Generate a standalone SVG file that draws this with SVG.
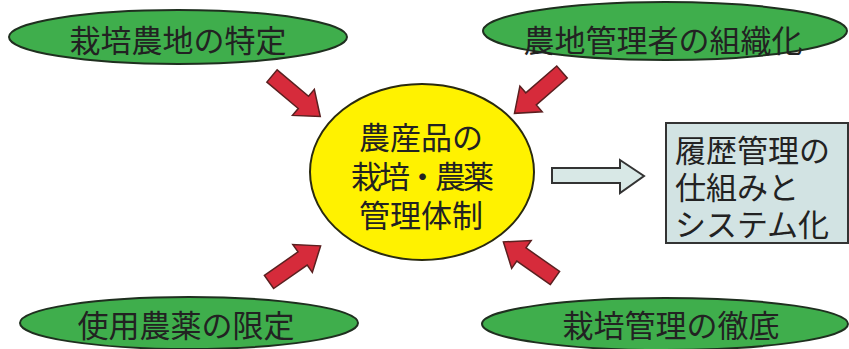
<svg xmlns="http://www.w3.org/2000/svg" xmlns:xlink="http://www.w3.org/1999/xlink" width="849" height="349" viewBox="0 0 849 349">
<style>
.g{fill:#3fae4c;stroke:#1f2f1f;stroke-width:2}
.y{fill:#fff200;stroke:#2a2a10;stroke-width:2}
.t{font-family:"Noto Sans CJK JP","Noto Sans CJK SC",sans-serif;font-size:31px;fill:#222;text-anchor:middle}
.tl{font-family:"Noto Sans CJK JP","Noto Sans CJK SC",sans-serif;font-size:31px;fill:#222}
.ra{fill:#d62b3b;stroke:#5a2020;stroke-width:1.5;stroke-linejoin:miter}
.box{fill:#d2e3e3;stroke:#333;stroke-width:2}
.ha{fill:#d8e8e6;stroke:#333;stroke-width:2;stroke-linejoin:miter}
</style>
<defs>
<path id="redArrow" d="M0,-8 L41,-8 L41,-17 L63,0 L41,17 L41,8 L0,8 Z"/>
</defs>
<rect width="849" height="349" fill="#fff"/>
<g id="connectors">
<use xlink:href="#redArrow" class="ra" transform="translate(272,76) rotate(40)"/>
<use xlink:href="#redArrow" class="ra" transform="translate(562,72) rotate(139)"/>
<use xlink:href="#redArrow" class="ra" transform="translate(269,282) rotate(-35)"/>
<use xlink:href="#redArrow" class="ra" transform="translate(555,278) rotate(-145)"/>
<path class="ha" d="M552,168 L620,168 L620,160 L644,176 L620,193 L620,183 L552,183 Z"/>
</g>
<g id="node-tl">
<ellipse class="g" cx="178" cy="37" rx="169" ry="27"/>
<text class="t" x="178" y="52">栽培農地の特定</text>
</g>
<g id="node-tr">
<ellipse class="g" cx="665" cy="31" rx="182" ry="29"/>
<text class="t" x="663" y="52">農地管理者の組織化</text>
</g>
<g id="node-bl">
<ellipse class="g" cx="189" cy="323" rx="169" ry="26"/>
<text class="t" x="186" y="337">使用農薬の限定</text>
</g>
<g id="node-br">
<ellipse class="g" cx="665" cy="324" rx="183" ry="26"/>
<text class="t" x="671" y="337">栽培管理の徹底</text>
</g>
<g id="node-center">
<ellipse class="y" cx="422" cy="172" rx="112" ry="88"/>
<text class="t" x="421" y="149">農産品の</text>
<text class="t" x="421" y="188" letter-spacing="-3">栽培・農薬</text>
<text class="t" x="421" y="227">管理体制</text>
</g>
<g id="node-box">
<rect class="box" x="666" y="123" width="182" height="120"/>
<text class="tl" x="675" y="162">履歴管理の</text>
<text class="tl" x="675" y="199">仕組みと</text>
<text class="tl" x="675" y="236">システム化</text>
</g>
</svg>
